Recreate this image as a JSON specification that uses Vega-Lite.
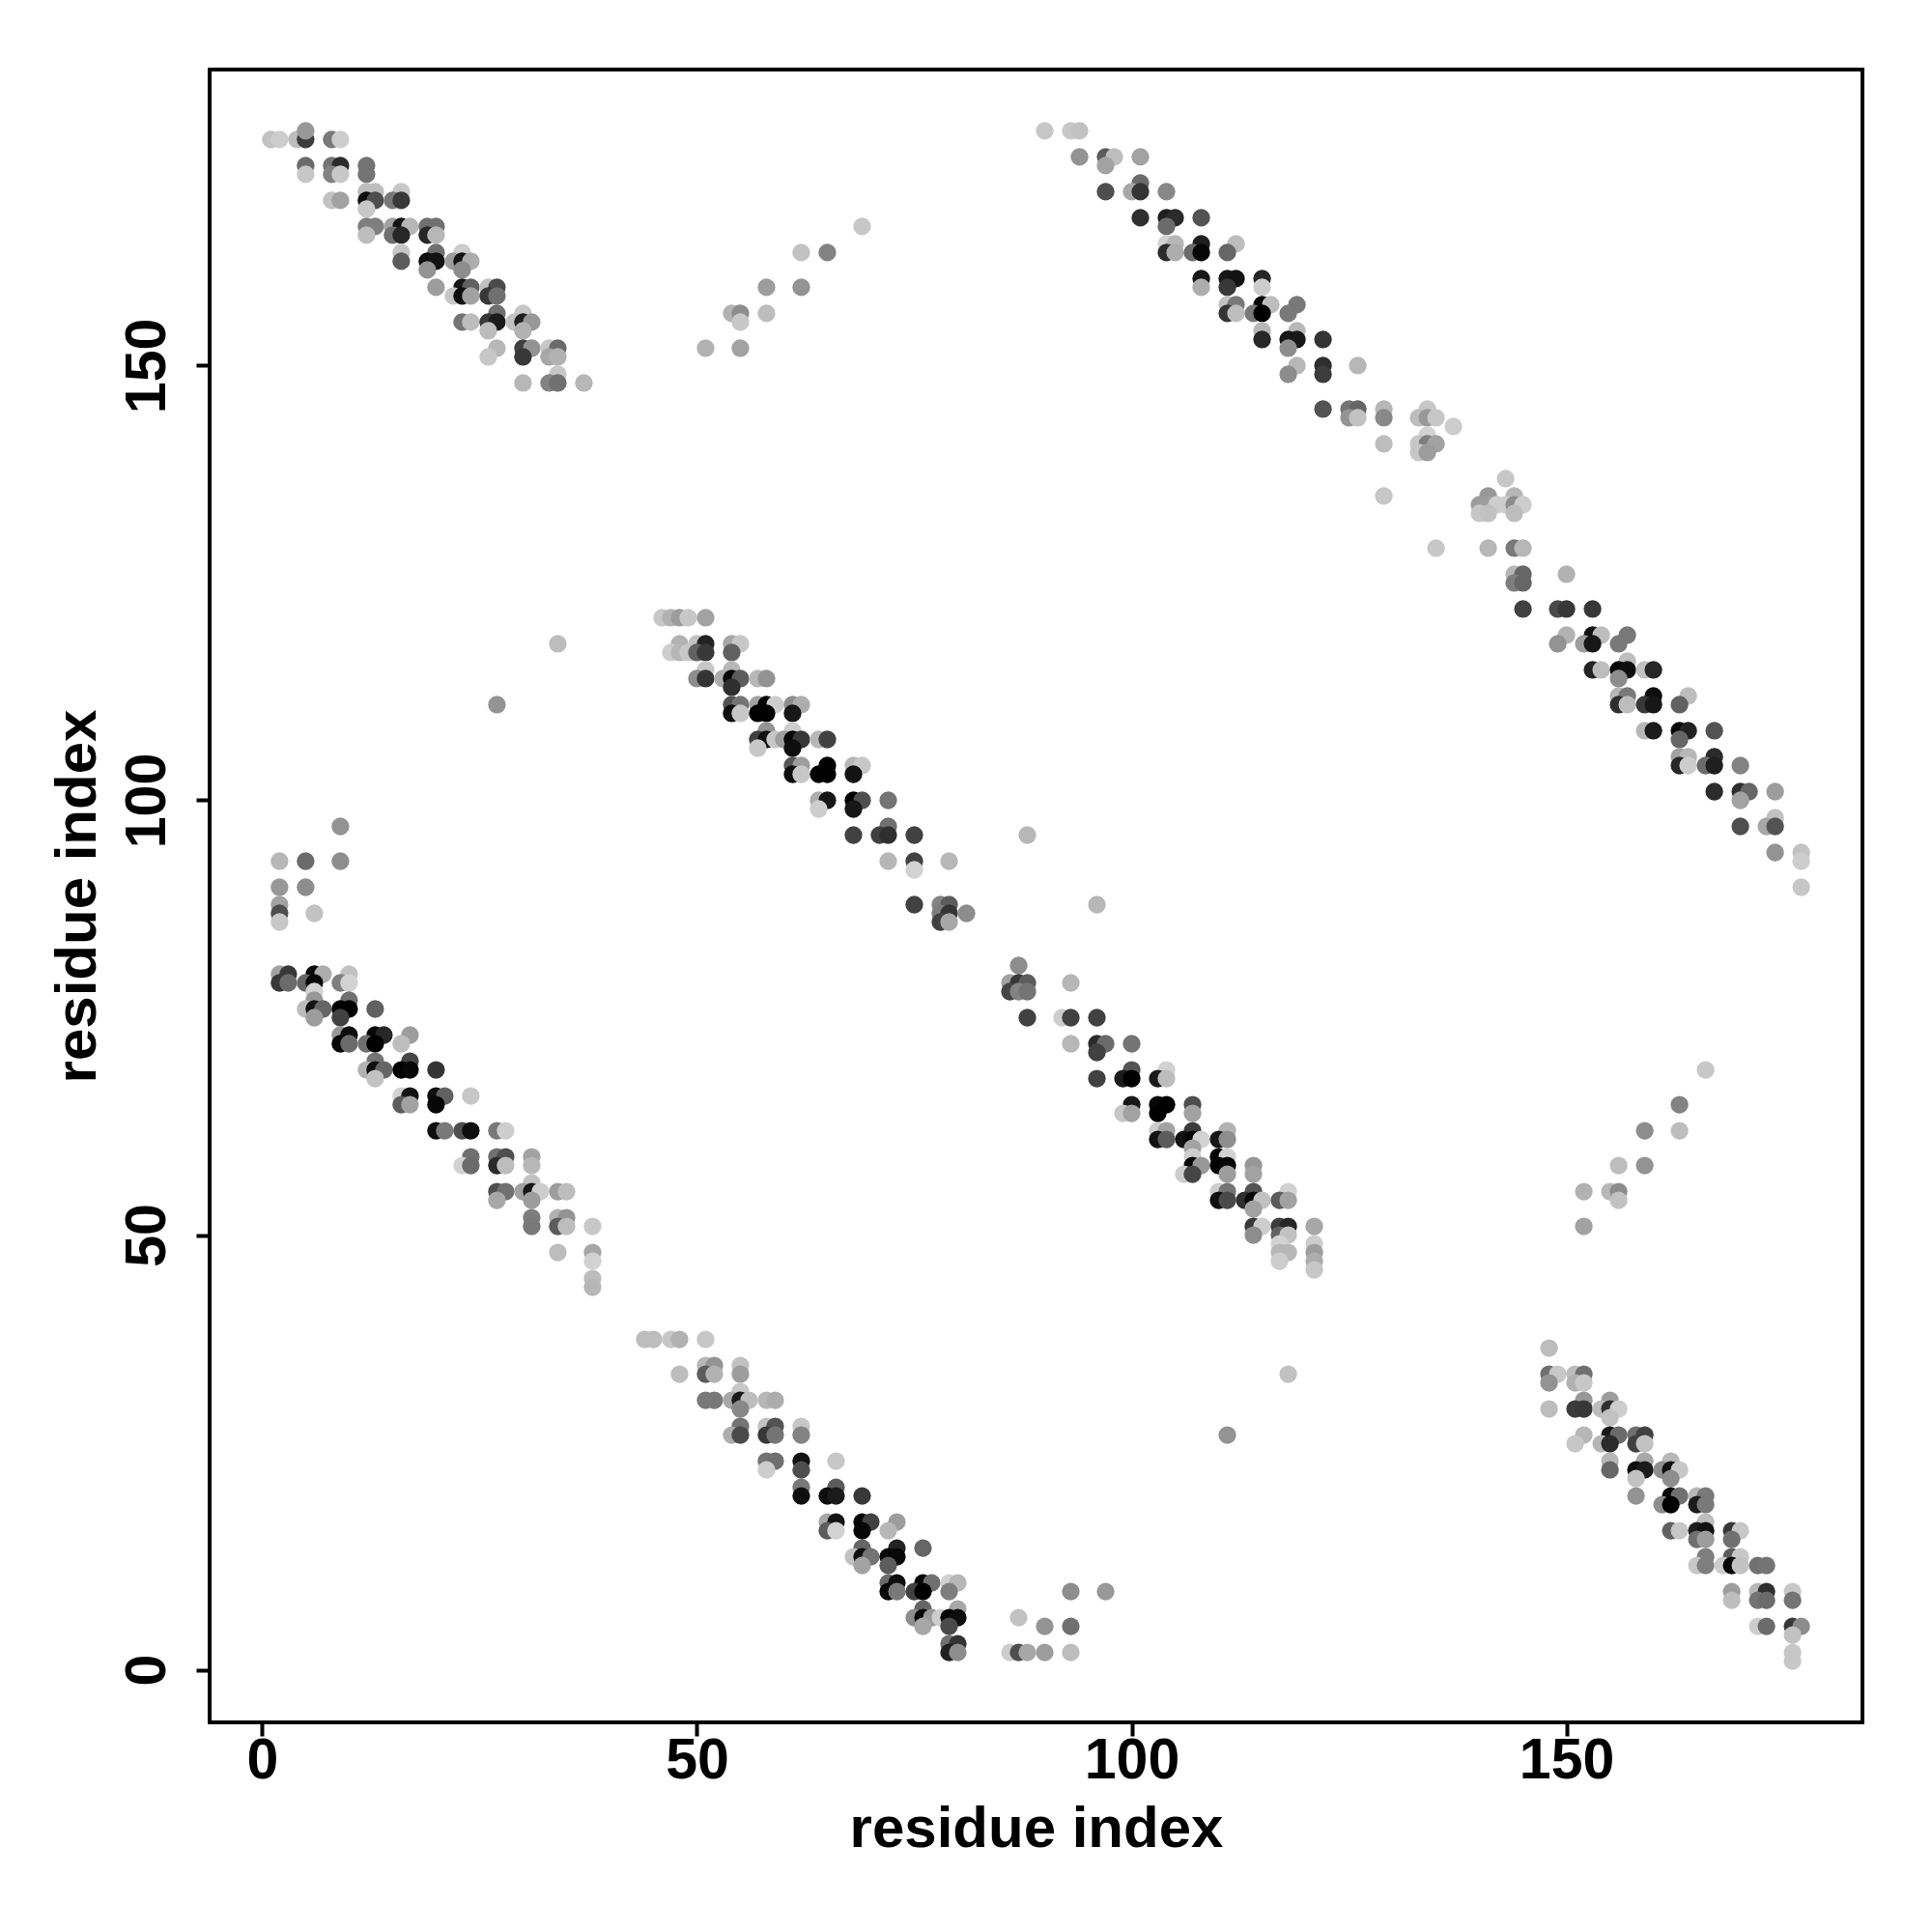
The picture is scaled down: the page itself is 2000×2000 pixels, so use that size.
{"$schema":"https://vega.github.io/schema/vega-lite/v6.json","autosize":"none","padding":{"left":217,"top":72,"right":72,"bottom":217},"width":1711,"height":1711,"background":"white",
"config":{"view":{"stroke":"black","strokeWidth":4},"font":"Liberation Sans"},
"data":{"values":[
{"i":1,"j":176,"s":200},{"i":2,"j":176,"s":210},{"i":4,"j":176,"s":195},{"i":5,"j":176,"s":65},{"i":8,"j":176,"s":130},{"i":9,"j":176,"s":210},{"i":5,"j":177,"s":160},
{"i":5,"j":173,"s":115},{"i":8,"j":173,"s":125},{"i":9,"j":173,"s":45},{"i":12,"j":173,"s":125},{"i":5,"j":172,"s":205},{"i":8,"j":172,"s":140},{"i":9,"j":172,"s":205},{"i":12,"j":172,"s":125},
{"i":12,"j":170,"s":195},{"i":13,"j":170,"s":195},{"i":16,"j":170,"s":205},{"i":8,"j":169,"s":200},{"i":9,"j":169,"s":170},{"i":12,"j":169,"s":10},{"i":13,"j":169,"s":85},{"i":15,"j":169,"s":130},{"i":16,"j":169,"s":60},{"i":12,"j":168,"s":205},
{"i":12,"j":166,"s":135},{"i":13,"j":166,"s":135},{"i":15,"j":166,"s":170},{"i":16,"j":166,"s":15},{"i":17,"j":166,"s":190},{"i":19,"j":166,"s":120},{"i":20,"j":166,"s":120},{"i":12,"j":165,"s":195},{"i":15,"j":165,"s":120},{"i":16,"j":165,"s":40},{"i":19,"j":165,"s":40},{"i":20,"j":165,"s":190},
{"i":16,"j":163,"s":205},{"i":20,"j":163,"s":120},{"i":23,"j":163,"s":210},{"i":16,"j":162,"s":100},{"i":19,"j":162,"s":10},{"i":20,"j":162,"s":15},{"i":22,"j":162,"s":165},{"i":23,"j":162,"s":15},{"i":24,"j":162,"s":180},{"i":19,"j":161,"s":155},{"i":23,"j":161,"s":150},
{"i":20,"j":159,"s":165},{"i":23,"j":159,"s":20},{"i":24,"j":159,"s":105},{"i":26,"j":159,"s":200},{"i":27,"j":159,"s":80},{"i":22,"j":158,"s":205},{"i":23,"j":158,"s":10},{"i":24,"j":158,"s":170},{"i":26,"j":158,"s":60},{"i":27,"j":158,"s":120},
{"i":27,"j":156,"s":120},{"i":30,"j":156,"s":205},{"i":23,"j":155,"s":125},{"i":24,"j":155,"s":195},{"i":26,"j":155,"s":60},{"i":27,"j":155,"s":25},{"i":29,"j":155,"s":200},{"i":30,"j":155,"s":30},{"i":31,"j":155,"s":160},{"i":26,"j":154,"s":195},{"i":30,"j":154,"s":185},
{"i":27,"j":152,"s":190},{"i":30,"j":152,"s":70},{"i":31,"j":152,"s":155},{"i":33,"j":152,"s":205},{"i":34,"j":152,"s":115},{"i":26,"j":151,"s":205},{"i":30,"j":151,"s":60},{"i":33,"j":151,"s":175},{"i":34,"j":151,"s":185},{"i":34,"j":149,"s":205},{"i":30,"j":148,"s":190},{"i":33,"j":148,"s":140},{"i":34,"j":148,"s":120},{"i":37,"j":148,"s":190},
{"i":51,"j":152,"s":185},{"i":54,"j":156,"s":185},{"i":55,"j":156,"s":150},{"i":55,"j":155,"s":205},{"i":55,"j":152,"s":170},{"i":58,"j":159,"s":165},{"i":58,"j":156,"s":195},{"i":62,"j":163,"s":200},{"i":62,"j":159,"s":155},{"i":65,"j":163,"s":140},{"i":69,"j":166,"s":205},
{"i":90,"j":177,"s":205},{"i":93,"j":177,"s":205},{"i":94,"j":177,"s":200},{"i":94,"j":174,"s":155},{"i":97,"j":174,"s":100},{"i":98,"j":174,"s":195},{"i":101,"j":174,"s":170},{"i":97,"j":173,"s":170},{"i":101,"j":171,"s":115},{"i":97,"j":170,"s":85},{"i":100,"j":170,"s":175},{"i":101,"j":170,"s":55},{"i":104,"j":170,"s":145},
{"i":101,"j":167,"s":50},{"i":104,"j":167,"s":30},{"i":105,"j":167,"s":45},{"i":108,"j":167,"s":90},{"i":104,"j":166,"s":115},{"i":104,"j":164,"s":215},{"i":105,"j":164,"s":190},{"i":108,"j":164,"s":30},{"i":112,"j":164,"s":195},{"i":104,"j":163,"s":45},{"i":105,"j":163,"s":180},{"i":107,"j":163,"s":115},{"i":108,"j":163,"s":5},{"i":111,"j":163,"s":110},
{"i":108,"j":160,"s":20},{"i":111,"j":160,"s":20},{"i":112,"j":160,"s":15},{"i":115,"j":160,"s":40},{"i":108,"j":159,"s":180},{"i":111,"j":159,"s":60},{"i":115,"j":159,"s":210},{"i":111,"j":157,"s":200},{"i":112,"j":157,"s":130},{"i":115,"j":157,"s":5},{"i":116,"j":157,"s":195},{"i":119,"j":157,"s":130},{"i":111,"j":156,"s":55},{"i":112,"j":156,"s":195},{"i":114,"j":156,"s":130},{"i":115,"j":156,"s":0},{"i":118,"j":156,"s":130},
{"i":115,"j":154,"s":190},{"i":119,"j":154,"s":190},{"i":115,"j":153,"s":40},{"i":118,"j":153,"s":20},{"i":119,"j":153,"s":20},{"i":122,"j":153,"s":55},{"i":118,"j":152,"s":150},{"i":119,"j":150,"s":190},{"i":122,"j":150,"s":50},{"i":126,"j":150,"s":190},{"i":118,"j":149,"s":150},{"i":122,"j":149,"s":65},{"i":122,"j":145,"s":90},{"i":125,"j":145,"s":125},{"i":126,"j":145,"s":110},{"i":129,"j":145,"s":190},{"i":125,"j":144,"s":155},{"i":126,"j":144,"s":200},{"i":129,"j":144,"s":145},
{"i":129,"j":141,"s":195},{"i":129,"j":135,"s":205},{"i":134,"j":145,"s":205},{"i":133,"j":144,"s":195},{"i":134,"j":144,"s":160},{"i":135,"j":144,"s":205},{"i":137,"j":143,"s":210},{"i":134,"j":142,"s":215},{"i":133,"j":141,"s":205},{"i":134,"j":141,"s":135},{"i":135,"j":141,"s":170},{"i":133,"j":140,"s":205},{"i":134,"j":140,"s":165},{"i":135,"j":129,"s":205},
{"i":143,"j":137,"s":205},{"i":141,"j":135,"s":160},{"i":144,"j":135,"s":190},{"i":140,"j":134,"s":165},{"i":141,"j":134,"s":165},{"i":142,"j":134,"s":210},{"i":143,"j":134,"s":210},{"i":144,"j":134,"s":150},{"i":145,"j":134,"s":210},{"i":140,"j":133,"s":205},{"i":141,"j":133,"s":200},{"i":144,"j":133,"s":195},{"i":141,"j":129,"s":190},{"i":144,"j":129,"s":130},{"i":145,"j":129,"s":190},{"i":144,"j":126,"s":190},{"i":145,"j":126,"s":110},{"i":144,"j":125,"s":135},{"i":145,"j":125,"s":110},{"i":145,"j":122,"s":70},
{"i":149,"j":122,"s":80},{"i":150,"j":122,"s":60},{"i":153,"j":122,"s":60},{"i":150,"j":126,"s":185},{"i":150,"j":119,"s":185},{"i":153,"j":119,"s":15},{"i":154,"j":119,"s":195},{"i":157,"j":119,"s":130},{"i":149,"j":118,"s":155},{"i":152,"j":118,"s":165},{"i":153,"j":118,"s":20},{"i":156,"j":118,"s":130},{"i":157,"j":116,"s":195},{"i":153,"j":115,"s":35},{"i":154,"j":115,"s":195},{"i":156,"j":115,"s":5},{"i":157,"j":115,"s":10},{"i":159,"j":115,"s":200},{"i":160,"j":115,"s":40},{"i":156,"j":114,"s":150},
{"i":156,"j":112,"s":190},{"i":157,"j":112,"s":130},{"i":160,"j":112,"s":10},{"i":164,"j":112,"s":195},{"i":156,"j":111,"s":50},{"i":157,"j":111,"s":195},{"i":159,"j":111,"s":60},{"i":160,"j":111,"s":20},{"i":163,"j":111,"s":105},{"i":159,"j":108,"s":190},{"i":160,"j":108,"s":25},{"i":163,"j":108,"s":5},{"i":164,"j":108,"s":35},{"i":167,"j":108,"s":90},{"i":163,"j":107,"s":110},
{"i":163,"j":105,"s":170},{"i":164,"j":105,"s":190},{"i":167,"j":105,"s":45},{"i":163,"j":104,"s":40},{"i":164,"j":104,"s":210},{"i":166,"j":104,"s":115},{"i":167,"j":104,"s":30},{"i":170,"j":104,"s":140},{"i":167,"j":101,"s":45},{"i":170,"j":101,"s":50},{"i":171,"j":101,"s":110},{"i":174,"j":101,"s":165},{"i":170,"j":100,"s":170},{"i":174,"j":98,"s":200},{"i":170,"j":97,"s":85},{"i":173,"j":97,"s":175},{"i":174,"j":97,"s":90},{"i":174,"j":94,"s":155},{"i":177,"j":94,"s":200},{"i":177,"j":93,"s":210},{"i":177,"j":90,"s":205},
{"i":46,"j":121,"s":205},{"i":47,"j":121,"s":185},{"i":48,"j":121,"s":165},{"i":49,"j":121,"s":205},{"i":51,"j":121,"s":170},{"i":48,"j":118,"s":185},{"i":50,"j":118,"s":200},{"i":51,"j":118,"s":35},{"i":54,"j":118,"s":175},{"i":55,"j":118,"s":205},{"i":47,"j":117,"s":210},{"i":48,"j":117,"s":190},{"i":49,"j":117,"s":205},{"i":50,"j":117,"s":105},{"i":51,"j":117,"s":60},{"i":54,"j":117,"s":105},
{"i":51,"j":115,"s":205},{"i":54,"j":115,"s":190},{"i":50,"j":114,"s":150},{"i":51,"j":114,"s":55},{"i":53,"j":114,"s":180},{"i":54,"j":114,"s":5},{"i":55,"j":114,"s":100},{"i":57,"j":114,"s":190},{"i":58,"j":114,"s":155},{"i":54,"j":113,"s":50},{"i":54,"j":111,"s":90},{"i":55,"j":111,"s":125},{"i":57,"j":111,"s":170},{"i":58,"j":111,"s":0},{"i":59,"j":111,"s":210},{"i":61,"j":111,"s":150},{"i":62,"j":111,"s":180},{"i":54,"j":110,"s":10},{"i":55,"j":110,"s":205},{"i":57,"j":110,"s":0},{"i":58,"j":110,"s":0},{"i":61,"j":110,"s":20},
{"i":58,"j":108,"s":155},{"i":61,"j":108,"s":210},{"i":57,"j":107,"s":70},{"i":58,"j":107,"s":10},{"i":59,"j":107,"s":205},{"i":60,"j":107,"s":165},{"i":61,"j":107,"s":5},{"i":62,"j":107,"s":60},{"i":64,"j":107,"s":190},{"i":65,"j":107,"s":70},{"i":57,"j":106,"s":205},{"i":61,"j":106,"s":10},{"i":61,"j":104,"s":95},{"i":62,"j":104,"s":165},{"i":65,"j":104,"s":0},{"i":68,"j":104,"s":190},{"i":69,"j":104,"s":205},{"i":61,"j":103,"s":10},{"i":62,"j":103,"s":205},{"i":64,"j":103,"s":0},{"i":65,"j":103,"s":0},{"i":68,"j":103,"s":15},
{"i":64,"j":100,"s":180},{"i":65,"j":100,"s":20},{"i":68,"j":100,"s":0},{"i":69,"j":100,"s":85},{"i":72,"j":100,"s":125},{"i":64,"j":99,"s":210},{"i":68,"j":99,"s":20},{"i":72,"j":97,"s":120},{"i":68,"j":96,"s":70},{"i":71,"j":96,"s":70},{"i":72,"j":96,"s":50},{"i":75,"j":96,"s":70},{"i":88,"j":96,"s":190},{"i":72,"j":93,"s":190},{"i":75,"j":93,"s":70},{"i":79,"j":93,"s":190},{"i":75,"j":92,"s":215},{"i":75,"j":88,"s":70},{"i":78,"j":88,"s":140},{"i":79,"j":88,"s":100},{"i":78,"j":87,"s":135},{"i":79,"j":87,"s":55},{"i":81,"j":87,"s":150},{"i":78,"j":86,"s":70},{"i":79,"j":86,"s":175},
{"i":27,"j":111,"s":155},{"i":34,"j":118,"s":195},{"i":118,"j":34,"s":200},{"i":111,"j":27,"s":155},{"i":96,"j":88,"s":190},
{"i":2,"j":93,"s":190},{"i":5,"j":93,"s":115},{"i":9,"j":97,"s":155},{"i":9,"j":93,"s":150},{"i":2,"j":90,"s":160},{"i":5,"j":90,"s":150},{"i":2,"j":88,"s":170},{"i":2,"j":87,"s":85},{"i":2,"j":86,"s":205},{"i":6,"j":87,"s":200},
{"i":2,"j":80,"s":170},{"i":3,"j":80,"s":60},{"i":6,"j":80,"s":5},{"i":7,"j":80,"s":180},{"i":10,"j":80,"s":200},{"i":2,"j":79,"s":60},{"i":3,"j":79,"s":115},{"i":5,"j":79,"s":110},{"i":6,"j":79,"s":5},{"i":9,"j":79,"s":135},{"i":10,"j":79,"s":215},{"i":6,"j":78,"s":215},{"i":6,"j":77,"s":160},{"i":10,"j":77,"s":120},{"i":5,"j":76,"s":195},{"i":6,"j":76,"s":15},{"i":7,"j":76,"s":110},{"i":9,"j":76,"s":0},{"i":10,"j":76,"s":0},{"i":13,"j":76,"s":105},{"i":6,"j":75,"s":165},{"i":9,"j":75,"s":70},
{"i":9,"j":73,"s":160},{"i":10,"j":73,"s":10},{"i":13,"j":73,"s":5},{"i":14,"j":73,"s":40},{"i":17,"j":73,"s":165},{"i":9,"j":72,"s":5},{"i":10,"j":72,"s":115},{"i":12,"j":72,"s":120},{"i":13,"j":72,"s":0},{"i":16,"j":72,"s":195},{"i":13,"j":70,"s":125},{"i":17,"j":70,"s":75},{"i":12,"j":69,"s":185},{"i":13,"j":69,"s":10},{"i":14,"j":69,"s":110},{"i":16,"j":69,"s":0},{"i":17,"j":69,"s":5},{"i":20,"j":69,"s":55},{"i":13,"j":68,"s":200},
{"i":16,"j":66,"s":215},{"i":17,"j":66,"s":15},{"i":20,"j":66,"s":10},{"i":21,"j":66,"s":105},{"i":24,"j":66,"s":205},{"i":16,"j":65,"s":100},{"i":17,"j":65,"s":170},{"i":20,"j":65,"s":5},{"i":20,"j":62,"s":10},{"i":21,"j":62,"s":130},{"i":23,"j":62,"s":85},{"i":24,"j":62,"s":10},{"i":27,"j":62,"s":130},{"i":28,"j":62,"s":210},
{"i":24,"j":59,"s":120},{"i":27,"j":59,"s":120},{"i":28,"j":59,"s":85},{"i":31,"j":59,"s":170},{"i":23,"j":58,"s":215},{"i":24,"j":58,"s":115},{"i":27,"j":58,"s":45},{"i":28,"j":58,"s":195},{"i":31,"j":58,"s":190},{"i":31,"j":56,"s":200},{"i":27,"j":55,"s":85},{"i":28,"j":55,"s":120},{"i":30,"j":55,"s":170},{"i":31,"j":55,"s":20},{"i":32,"j":55,"s":210},{"i":34,"j":55,"s":165},{"i":35,"j":55,"s":195},{"i":27,"j":54,"s":175},{"i":31,"j":54,"s":165},
{"i":31,"j":52,"s":135},{"i":34,"j":52,"s":185},{"i":35,"j":52,"s":155},{"i":31,"j":51,"s":130},{"i":34,"j":51,"s":100},{"i":35,"j":51,"s":195},{"i":38,"j":51,"s":205},{"i":34,"j":48,"s":195},{"i":38,"j":48,"s":175},{"i":38,"j":47,"s":215},{"i":38,"j":45,"s":195},{"i":38,"j":44,"s":190},
{"i":87,"j":81,"s":150},{"i":86,"j":79,"s":170},{"i":87,"j":79,"s":60},{"i":88,"j":79,"s":100},{"i":93,"j":79,"s":190},{"i":86,"j":78,"s":75},{"i":87,"j":78,"s":140},{"i":88,"j":78,"s":125},{"i":88,"j":75,"s":70},{"i":92,"j":75,"s":210},{"i":93,"j":75,"s":70},{"i":96,"j":75,"s":70},{"i":93,"j":72,"s":190},{"i":96,"j":72,"s":45},{"i":97,"j":72,"s":115},{"i":100,"j":72,"s":125},{"i":96,"j":71,"s":70},
{"i":100,"j":69,"s":90},{"i":104,"j":69,"s":215},{"i":96,"j":68,"s":70},{"i":99,"j":68,"s":25},{"i":100,"j":68,"s":0},{"i":103,"j":68,"s":25},{"i":104,"j":68,"s":195},{"i":100,"j":65,"s":20},{"i":103,"j":65,"s":5},{"i":104,"j":65,"s":0},{"i":107,"j":65,"s":85},{"i":99,"j":64,"s":205},{"i":100,"j":64,"s":170},{"i":103,"j":64,"s":0},{"i":107,"j":64,"s":170},
{"i":103,"j":62,"s":210},{"i":104,"j":62,"s":170},{"i":107,"j":62,"s":65},{"i":111,"j":62,"s":185},{"i":103,"j":61,"s":15},{"i":104,"j":61,"s":100},{"i":106,"j":61,"s":15},{"i":107,"j":61,"s":5},{"i":108,"j":61,"s":215},{"i":110,"j":61,"s":20},{"i":111,"j":61,"s":150},{"i":107,"j":60,"s":170},{"i":107,"j":59,"s":210},{"i":110,"j":59,"s":0},{"i":111,"j":59,"s":215},{"i":107,"j":58,"s":5},{"i":108,"j":58,"s":160},{"i":110,"j":58,"s":0},{"i":111,"j":58,"s":5},{"i":114,"j":58,"s":160},{"i":106,"j":57,"s":210},{"i":107,"j":57,"s":75},{"i":111,"j":57,"s":165},{"i":114,"j":57,"s":170},
{"i":110,"j":55,"s":210},{"i":111,"j":55,"s":125},{"i":114,"j":55,"s":90},{"i":118,"j":55,"s":215},{"i":110,"j":54,"s":10},{"i":111,"j":54,"s":80},{"i":113,"j":54,"s":50},{"i":114,"j":54,"s":5},{"i":115,"j":54,"s":200},{"i":117,"j":54,"s":100},{"i":118,"j":54,"s":170},{"i":114,"j":53,"s":170},{"i":114,"j":51,"s":60},{"i":115,"j":51,"s":210},{"i":117,"j":51,"s":65},{"i":118,"j":51,"s":40},{"i":121,"j":51,"s":175},{"i":114,"j":50,"s":150},{"i":117,"j":50,"s":105},{"i":118,"j":50,"s":200},{"i":117,"j":49,"s":215},{"i":121,"j":49,"s":210},{"i":117,"j":48,"s":190},{"i":118,"j":48,"s":190},{"i":121,"j":48,"s":165},{"i":117,"j":47,"s":210},{"i":121,"j":47,"s":180},{"i":121,"j":46,"s":205},
{"i":152,"j":55,"s":185},{"i":155,"j":55,"s":190},{"i":156,"j":55,"s":150},{"i":156,"j":54,"s":200},{"i":152,"j":51,"s":170},{"i":156,"j":58,"s":195},{"i":159,"j":58,"s":155},{"i":159,"j":62,"s":150},{"i":163,"j":62,"s":195},{"i":163,"j":65,"s":140},{"i":166,"j":69,"s":205},
{"i":44,"j":38,"s":195},{"i":45,"j":38,"s":195},{"i":47,"j":38,"s":205},{"i":48,"j":38,"s":185},{"i":51,"j":38,"s":205},{"i":51,"j":35,"s":190},{"i":52,"j":35,"s":155},{"i":55,"j":35,"s":200},{"i":48,"j":34,"s":195},{"i":51,"j":34,"s":100},{"i":52,"j":34,"s":185},{"i":55,"j":34,"s":165},{"i":55,"j":32,"s":205},{"i":51,"j":31,"s":130},{"i":52,"j":31,"s":130},{"i":54,"j":31,"s":175},{"i":55,"j":31,"s":25},{"i":56,"j":31,"s":195},{"i":58,"j":31,"s":190},{"i":59,"j":31,"s":180},{"i":55,"j":30,"s":145},
{"i":55,"j":28,"s":125},{"i":58,"j":28,"s":200},{"i":59,"j":28,"s":90},{"i":62,"j":28,"s":205},{"i":54,"j":27,"s":180},{"i":55,"j":27,"s":80},{"i":58,"j":27,"s":60},{"i":59,"j":27,"s":125},{"i":62,"j":27,"s":140},{"i":58,"j":24,"s":125},{"i":59,"j":24,"s":120},{"i":62,"j":24,"s":15},{"i":66,"j":24,"s":205},{"i":58,"j":23,"s":210},{"i":62,"j":23,"s":85},
{"i":62,"j":21,"s":130},{"i":66,"j":21,"s":100},{"i":62,"j":20,"s":10},{"i":65,"j":20,"s":10},{"i":66,"j":20,"s":25},{"i":69,"j":20,"s":60},{"i":65,"j":17,"s":175},{"i":66,"j":17,"s":15},{"i":69,"j":17,"s":5},{"i":70,"j":17,"s":70},{"i":73,"j":17,"s":165},{"i":65,"j":16,"s":100},{"i":66,"j":16,"s":215},{"i":69,"j":16,"s":5},{"i":72,"j":16,"s":190},
{"i":69,"j":14,"s":110},{"i":73,"j":14,"s":35},{"i":76,"j":14,"s":110},{"i":68,"j":13,"s":200},{"i":69,"j":13,"s":10},{"i":70,"j":13,"s":125},{"i":72,"j":13,"s":5},{"i":73,"j":13,"s":5},{"i":69,"j":12,"s":170},{"i":72,"j":12,"s":100},{"i":72,"j":10,"s":115},{"i":73,"j":10,"s":10},{"i":76,"j":10,"s":5},{"i":77,"j":10,"s":120},{"i":79,"j":10,"s":215},{"i":80,"j":10,"s":190},{"i":72,"j":9,"s":5},{"i":73,"j":9,"s":130},{"i":75,"j":9,"s":70},{"i":76,"j":9,"s":0},{"i":79,"j":9,"s":135},
{"i":76,"j":7,"s":110},{"i":80,"j":7,"s":175},{"i":75,"j":6,"s":150},{"i":76,"j":6,"s":5},{"i":77,"j":6,"s":160},{"i":78,"j":6,"s":210},{"i":79,"j":6,"s":5},{"i":80,"j":6,"s":10},{"i":76,"j":5,"s":175},{"i":79,"j":5,"s":80},{"i":79,"j":3,"s":120},{"i":80,"j":3,"s":55},{"i":79,"j":2,"s":30},{"i":80,"j":2,"s":150},
{"i":93,"j":9,"s":150},{"i":97,"j":9,"s":160},{"i":87,"j":6,"s":200},{"i":90,"j":5,"s":155},{"i":93,"j":5,"s":120},{"i":86,"j":2,"s":210},{"i":87,"j":2,"s":85},{"i":88,"j":2,"s":175},{"i":90,"j":2,"s":165},{"i":93,"j":2,"s":195},
{"i":148,"j":37,"s":195},{"i":148,"j":34,"s":120},{"i":149,"j":34,"s":205},{"i":151,"j":34,"s":195},{"i":152,"j":34,"s":120},{"i":148,"j":33,"s":155},{"i":151,"j":33,"s":185},{"i":152,"j":33,"s":205},{"i":152,"j":31,"s":160},{"i":155,"j":31,"s":165},{"i":148,"j":30,"s":195},{"i":151,"j":30,"s":65},{"i":152,"j":30,"s":60},{"i":154,"j":30,"s":195},{"i":155,"j":30,"s":50},{"i":156,"j":30,"s":210},{"i":155,"j":29,"s":200},
{"i":152,"j":27,"s":190},{"i":155,"j":27,"s":20},{"i":156,"j":27,"s":115},{"i":158,"j":27,"s":120},{"i":159,"j":27,"s":70},{"i":151,"j":26,"s":205},{"i":154,"j":26,"s":190},{"i":155,"j":26,"s":45},{"i":158,"j":26,"s":70},{"i":159,"j":26,"s":200},{"i":155,"j":24,"s":190},{"i":159,"j":24,"s":175},{"i":162,"j":24,"s":190},{"i":155,"j":23,"s":110},{"i":158,"j":23,"s":10},{"i":159,"j":23,"s":25},{"i":161,"j":23,"s":150},{"i":162,"j":23,"s":10},{"i":163,"j":23,"s":205},{"i":158,"j":22,"s":200},{"i":162,"j":22,"s":150},
{"i":158,"j":20,"s":155},{"i":162,"j":20,"s":5},{"i":163,"j":20,"s":120},{"i":165,"j":20,"s":190},{"i":166,"j":20,"s":130},{"i":161,"j":19,"s":150},{"i":162,"j":19,"s":0},{"i":165,"j":19,"s":25},{"i":166,"j":19,"s":130},{"i":166,"j":17,"s":195},{"i":162,"j":16,"s":105},{"i":163,"j":16,"s":205},{"i":165,"j":16,"s":30},{"i":166,"j":16,"s":15},{"i":169,"j":16,"s":60},{"i":170,"j":16,"s":205},{"i":165,"j":15,"s":120},{"i":166,"j":15,"s":165},{"i":169,"j":15,"s":120},
{"i":166,"j":13,"s":135},{"i":169,"j":13,"s":100},{"i":170,"j":13,"s":205},{"i":165,"j":12,"s":205},{"i":166,"j":12,"s":135},{"i":168,"j":12,"s":210},{"i":169,"j":12,"s":5},{"i":170,"j":12,"s":200},{"i":172,"j":12,"s":120},{"i":173,"j":12,"s":125},{"i":169,"j":9,"s":165},{"i":172,"j":9,"s":190},{"i":173,"j":9,"s":50},{"i":176,"j":9,"s":205},{"i":169,"j":8,"s":195},{"i":172,"j":8,"s":125},{"i":173,"j":8,"s":115},{"i":176,"j":8,"s":125},{"i":172,"j":5,"s":210},{"i":173,"j":5,"s":115},{"i":176,"j":5,"s":60},{"i":177,"j":5,"s":150},{"i":176,"j":4,"s":200},{"i":176,"j":2,"s":205},{"i":176,"j":1,"s":205}
]},
"mark":{"type":"circle","size":335,"opacity":1},
"encoding":{
"x":{"field":"i","type":"quantitative","scale":{"domain":[-6.04,184.04],"nice":false,"zero":false},"axis":{"title":"residue index","values":[0,50,100,150],"grid":false,"domain":false,"tickColor":"black","tickSize":14,"tickWidth":4,"labelFontSize":59,"labelFontWeight":"bold","labelColor":"black","labelPadding":-4,"titleFontSize":60,"titleFontWeight":"bold","titleColor":"black","titlePadding":12,"labelFont":"Liberation Sans","titleFont":"Liberation Sans"}},
"y":{"field":"j","type":"quantitative","scale":{"domain":[-6.04,184.04],"nice":false,"zero":false},"axis":{"title":"residue index","values":[0,50,100,150],"grid":false,"domain":false,"tickColor":"black","tickSize":14,"tickWidth":4,"labelAngle":-90,"labelAlign":"center","labelBaseline":"bottom","labelFontSize":59,"labelFontWeight":"bold","labelColor":"black","labelPadding":21,"titleFontSize":60,"titleFontWeight":"bold","titleColor":"black","titlePadding":12,"labelFont":"Liberation Sans","titleFont":"Liberation Sans"}},
"color":{"field":"s","type":"quantitative","legend":null,"scale":{"domain":[0,255],"range":["#000000","#ffffff"]}},
"order":[{"field":"i","type":"quantitative"},{"field":"j","type":"quantitative"}]
}}
